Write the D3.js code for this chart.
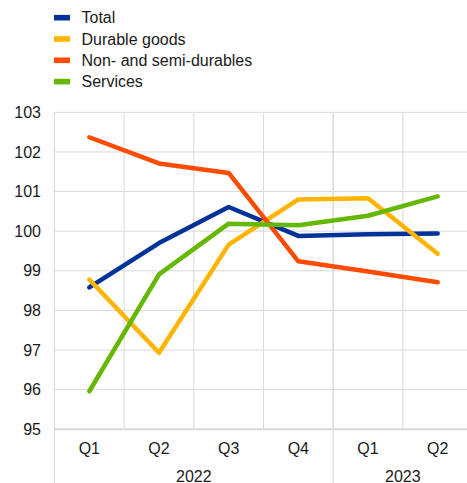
<!DOCTYPE html>
<html><head><meta charset="utf-8">
<script src="https://cdn.jsdelivr.net/npm/d3@7"></script>
<style>
html,body{margin:0;padding:0;background:#fff;}
svg{display:block;font-family:"Liberation Sans",Arial,sans-serif;}
</style></head>
<body>
<script>
const quarters = ["Q1","Q2","Q3","Q4","Q1","Q2"];
const years = [{label:"2022", from:0, to:4},{label:"2023", from:4, to:6}];
const seriesNames = ["Total","Durable goods","Non- and semi-durables","Services"];
const seriesColors = ["#003299","#ffb400","#ff4b00","#65b800"];
const total = [98.58, 99.70, 100.61, 99.88, 99.92, 99.94];
const durable = [98.78, 96.93, 99.66, 100.80, 100.83, 99.43];
const nonDurable = [102.37, 101.71, 101.47, 99.24, 98.98, 98.71];
const services = [95.96, 98.91, 100.19, 100.15, 100.39, 100.88];
const yTicks = [95,96,97,98,99,100,101,102,103];

const W = 467, H = 483;
const mLeft = 54.5, mRight = 472.5, mTop = 112.3, mBottom = 429.3;
const FS = 16;
const svg = d3.select("body").append("svg").attr("width", W).attr("height", H);

const idx = d3.range(quarters.length);
const x = d3.scaleBand().domain(idx).range([mLeft, mRight]).padding(0);
const y = d3.scaleLinear().domain([95,103]).range([mBottom, mTop]);

// horizontal grid
svg.append("g").selectAll("line").data(yTicks.filter(d=>d!==95)).join("line")
  .attr("x1", mLeft).attr("x2", W).attr("y1", d=>y(d)).attr("y2", d=>y(d))
  .attr("stroke", "#d9d9d9").attr("stroke-width", 1);
// vertical grid (band boundaries)
svg.append("g").selectAll("line").data(idx.slice(1)).join("line")
  .attr("x1", d=>x(d)).attr("x2", d=>x(d)).attr("y1", mTop).attr("y2", mBottom)
  .attr("stroke", "#d9d9d9").attr("stroke-width", 1);
// left edge & year separators extending down
const seps = [0].concat(years.slice(1).map(d=>d.from));
svg.append("g").selectAll("line").data(seps).join("line")
  .attr("x1", d=>x(d)).attr("x2", d=>x(d)).attr("y1", mTop).attr("y2", H)
  .attr("stroke", "#d9d9d9").attr("stroke-width", 1);
// bottom axis line
svg.append("line").attr("x1", mLeft).attr("x2", W).attr("y1", mBottom).attr("y2", mBottom)
  .attr("stroke", "#d9d9d9").attr("stroke-width", 2);

// y labels
svg.append("g").selectAll("text").data(yTicks).join("text")
  .attr("x", 41).attr("y", d=>y(d)).attr("dy","0.35em")
  .attr("text-anchor","end").attr("font-size", FS).attr("fill","#1a1a1a")
  .text(d=>d);

// x labels
svg.append("g").selectAll("text").data(idx).join("text")
  .attr("x", d=>x(d)+x.bandwidth()/2).attr("y", 448).attr("dy","0.35em")
  .attr("text-anchor","middle").attr("font-size", FS).attr("fill","#1a1a1a")
  .text(d=>quarters[d]);
svg.append("g").selectAll("text").data(years).join("text")
  .attr("x", d=>(x(d.from) + x(d.to-1)+x.bandwidth())/2).attr("y", 476.5).attr("dy","0.35em")
  .attr("text-anchor","middle").attr("font-size", FS).attr("fill","#1a1a1a")
  .text(d=>d.label);

// lines
const data = [total, durable, nonDurable, services];
const line = d3.line().x((d,i)=>x(i)+x.bandwidth()/2).y(d=>y(d));
svg.append("g").selectAll("path").data(data).join("path")
  .attr("d", d=>line(d)).attr("fill","none")
  .attr("stroke", (d,i)=>seriesColors[i]).attr("stroke-width", 4.5)
  .attr("stroke-linejoin","round").attr("stroke-linecap","round");

// legend
const lg = svg.append("g").selectAll("g").data(seriesNames).join("g")
  .attr("transform", (d,i)=>`translate(54, ${17.7 + i*21.3})`);
lg.append("rect").attr("x",0).attr("y",-2.8).attr("width",16).attr("height",5.6)
  .attr("fill",(d,i)=>seriesColors[i]);
lg.append("text").attr("x",27.5).attr("y",0).attr("dy","0.35em")
  .attr("font-size",FS).attr("fill","#1a1a1a").text(d=>d);
</script>
</body></html>
